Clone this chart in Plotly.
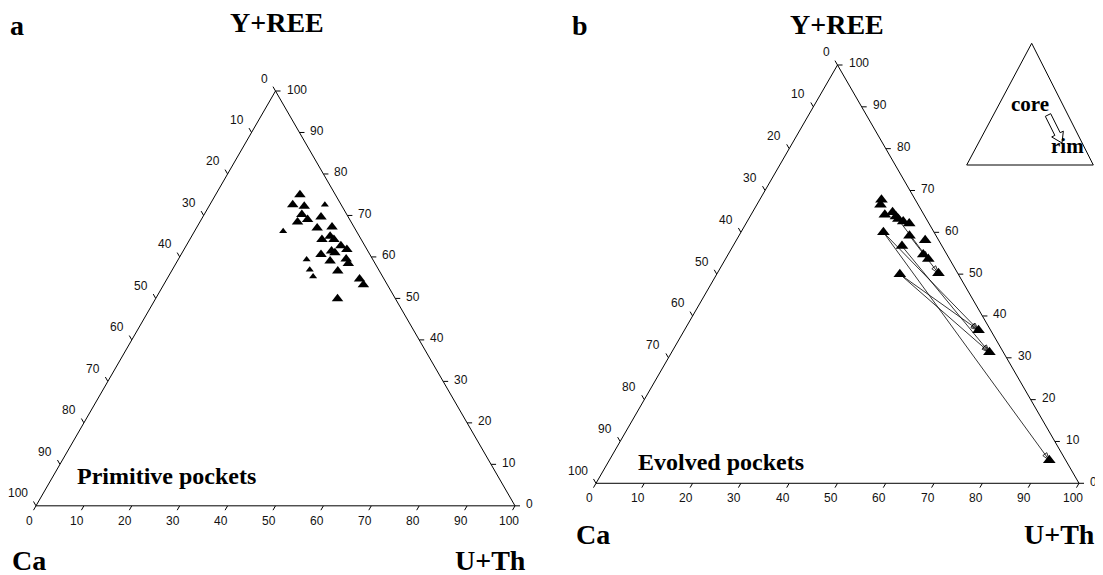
import math
import plotly.graph_objects as go

# ---------------- data (percent) ----------------
# Panel a: primitive pockets
a_yree = [75.0, 72.6, 72.2, 72.6, 70.2, 69.0, 68.4, 69.6, 66.2, 67.0, 67.2, 65.0, 64.2, 64.2, 62.7,
          61.4, 61.8, 60.6, 59.4, 61.0, 59.0, 59.5, 58.4, 56.9, 55.3, 56.6, 54.7, 53.3, 49.9]
a_uth = [17.6, 17.3, 19.9, 24.0, 20.4, 22.2, 20.4, 24.7, 18.5, 25.2, 28.2, 28.9, 27.6, 30.1, 32.3,
         31.0, 34.0, 29.2, 26.8, 31.9, 31.9, 35.0, 36.0, 28.7, 30.2, 34.7, 40.2, 41.7, 38.0]
a_ca = [7.4, 10.1, 7.9, 3.4, 9.4, 8.8, 11.2, 5.7, 15.3, 7.8, 4.6, 6.1, 8.2, 5.7, 5.0,
        7.6, 4.2, 10.2, 13.8, 7.1, 9.1, 5.5, 5.6, 14.4, 14.5, 8.7, 5.1, 5.0, 12.1]
a_big = [1, 1, 1, 0, 1, 1, 1, 1, 0, 1, 1, 1, 1, 1, 1, 1, 1, 1, 0, 1, 1, 1, 1, 0, 0, 1, 1, 1, 1]

# Panel b: evolved pockets
b_yree = [67.8, 66.6, 64.2, 64.8, 63.8, 63.2, 62.6, 62.1, 60.0, 59.2, 58.1, 56.7, 54.7, 53.6, 50.2,
          50.0, 36.6, 31.3, 5.5]
b_uth = [25.2, 25.6, 27.7, 29.0, 30.2, 31.0, 32.3, 33.8, 29.5, 35.3, 39.1, 35.0, 40.4, 42.0, 45.8,
         37.9, 60.9, 65.8, 91.1]
b_ca = [7.0, 7.8, 8.1, 6.2, 6.0, 5.8, 5.1, 4.1, 10.5, 5.5, 2.8, 8.3, 4.9, 4.4, 4.0,
        12.1, 2.5, 2.9, 3.4]

# core -> rim pairs (indices into panel b data)
arrow_core = [8, 8, 15, 15, 9, 4, 11]
arrow_rim = [18, 16, 17, 16, 14, 13, 17]

tick_vals = list(range(0, 101, 10))

# page body has an 8px margin: the figure starts at (8, 8) in the window
OFF = 8
W, H = 1103 - OFF, 575 - OFF


def px(x):
    return (x - OFF) / W


def py(y):
    return 1 - (y - OFF) / H


# triangle geometry in window pixels
panels = [
    dict(tern="ternary", xa="x", ya="y", x0=36, x1=515, top=91),
    dict(tern="ternary2", xa="x2", ya="y2", x0=596, x1=1079, top=65),
]
for p in panels:
    p["w"] = p["x1"] - p["x0"]
    p["bottom"] = p["top"] + p["w"] * math.sqrt(3) / 2

fig = go.Figure()

# ---- data ----
fig.add_trace(go.Scatterternary(
    a=a_yree, b=a_ca, c=a_uth, mode="markers", subplot="ternary",
    marker=dict(symbol="triangle-up", color="black", opacity=1,
                size=[10 if s else 7 for s in a_big], line=dict(width=0)),
    showlegend=False, hoverinfo="skip"))

for i, j in zip(arrow_core, arrow_rim):
    fig.add_trace(go.Scatterternary(
        a=[b_yree[i], b_yree[j]], b=[b_ca[i], b_ca[j]], c=[b_uth[i], b_uth[j]],
        mode="lines+markers", subplot="ternary2",
        line=dict(color="black", width=0.8),
        marker=dict(symbol="arrow-open", size=[0, 8], angleref="previous", opacity=1,
                    color="black", line=dict(color="black", width=0.8)),
        showlegend=False, hoverinfo="skip"))

fig.add_trace(go.Scatterternary(
    a=b_yree, b=b_ca, c=b_uth, mode="markers", subplot="ternary2",
    marker=dict(symbol="triangle-up", color="black", size=11, opacity=1, line=dict(width=0)),
    showlegend=False, hoverinfo="skip"))


# ---- tick marks and labels, placed with hidden cartesian axes overlaying each triangle ----
# cartesian position of a ternary point: x = U+Th + Y+REE/2, y = Y+REE  (ranges 0..100)
def proj(yree, uth):
    return uth + yree / 2, yree


TICKFONT = dict(family="Liberation Sans", size=12, color="#111111")
edges = [
    # label value -> (Y+REE, U+Th) on the edge, tick angle, label anchor/shift
    (lambda v: (100 - v, 0), 150, "right", "middle", -6, 12.5),   # Ca along left edge
    (lambda v: (0, v), 30, "center", "middle", -6.5, -15),         # U+Th along bottom
    (lambda v: (v, 100 - v), -90, "left", "middle", 9, 1.5),       # Y+REE along right edge
]
for p in panels:
    for base, ang, xan, yan, xs, ys in edges:
        xy = [proj(*base(v)) for v in tick_vals]
        fig.add_trace(go.Scatter(
            x=[q[0] for q in xy], y=[q[1] for q in xy], xaxis=p["xa"], yaxis=p["ya"],
            mode="markers", cliponaxis=False,
            marker=dict(symbol="line-ns", angle=ang, standoff=2.5, size=3.6, color="black",
                        line=dict(color="black", width=1)),
            showlegend=False, hoverinfo="skip"))
        for v, q in zip(tick_vals, xy):
            fig.add_annotation(text=str(v), x=q[0], y=q[1], xref=p["xa"], yref=p["ya"],
                               showarrow=False, xanchor=xan, yanchor=yan,
                               xshift=xs, yshift=ys, font=TICKFONT)


def axis():
    return dict(ticks="", showticklabels=False,
                showline=True, linecolor="black", linewidth=1, showgrid=False,
                title=dict(text=""), min=0)


lay = {}
for p in panels:
    dx = [px(p["x0"]), px(p["x1"])]
    dy = [py(p["bottom"]), py(p["top"])]
    lay[p["tern"]] = dict(sum=100, bgcolor="white", aaxis=axis(), baxis=axis(), caxis=axis(),
                          domain=dict(x=dx, y=dy))
    xname = "xaxis" if p["xa"] == "x" else "xaxis2"
    yname = "yaxis" if p["ya"] == "y" else "yaxis2"
    lay[xname] = dict(domain=dx, range=[0, 100], visible=False, fixedrange=True, anchor=p["ya"])
    lay[yname] = dict(domain=dy, range=[0, 100], visible=False, fixedrange=True, anchor=p["xa"])

fig.update_layout(
    width=W, height=H, margin=dict(l=0, r=0, t=0, b=0),
    paper_bgcolor="white", plot_bgcolor="rgba(0,0,0,0)", **lay)

serif = "Liberation Serif"
labels = [
    ("<b>Y+REE</b>", 277, 22, 28), ("<b>Ca</b>", 29, 560, 28), ("<b>U+Th</b>", 490, 560, 28),
    ("<b>Y+REE</b>", 837, 24, 28), ("<b>Ca</b>", 593, 534, 28), ("<b>U+Th</b>", 1059, 534, 28),
    ("<b>Primitive pockets</b>", 166, 476, 24), ("<b>Evolved pockets</b>", 721, 462, 24),
    ("<b>core</b>", 1030, 104, 21), ("<b>rim</b>", 1067, 146, 21),
]
for t, x, y, s in labels:
    fig.add_annotation(text=t, x=px(x), y=py(y), xref="paper", yref="paper",
                       showarrow=False, xanchor="center", yanchor="middle",
                       font=dict(family=serif, size=s, color="black"))
for t, x in [("<b>a</b>", 17), ("<b>b</b>", 580)]:
    fig.add_annotation(text=t, x=px(x), y=1, xref="paper", yref="paper",
                       showarrow=False, xanchor="center", yanchor="top",
                       font=dict(family=serif, size=28, color="black"))

# inset triangle
tri = [(1031.7, 43.3), (966.7, 165), (1093.3, 165)]
path = "M " + " L ".join(f"{px(x)},{py(y)}" for x, y in tri) + " Z"
fig.add_shape(type="path", path=path, xref="paper", yref="paper",
              line=dict(color="black", width=1))

# hollow block arrow core -> rim
sx, sy, ex, ey = 1048, 115, 1062, 143
L = math.hypot(ex - sx, ey - sy)
ux, uy = (ex - sx) / L, (ey - sy) / L
nx, ny = -uy, ux
hw, hh, hl = 3, 6.5, 10
pts = [(sx + nx * hw, sy + ny * hw),
       (sx + ux * (L - hl) + nx * hw, sy + uy * (L - hl) + ny * hw),
       (sx + ux * (L - hl) + nx * hh, sy + uy * (L - hl) + ny * hh),
       (ex, ey),
       (sx + ux * (L - hl) - nx * hh, sy + uy * (L - hl) - ny * hh),
       (sx + ux * (L - hl) - nx * hw, sy + uy * (L - hl) - ny * hw),
       (sx - nx * hw, sy - ny * hw)]
path2 = "M " + " L ".join(f"{px(x)},{py(y)}" for x, y in pts) + " Z"
fig.add_shape(type="path", path=path2, xref="paper", yref="paper",
              line=dict(color="black", width=1), fillcolor="white")

fig.write_html("out.html")
